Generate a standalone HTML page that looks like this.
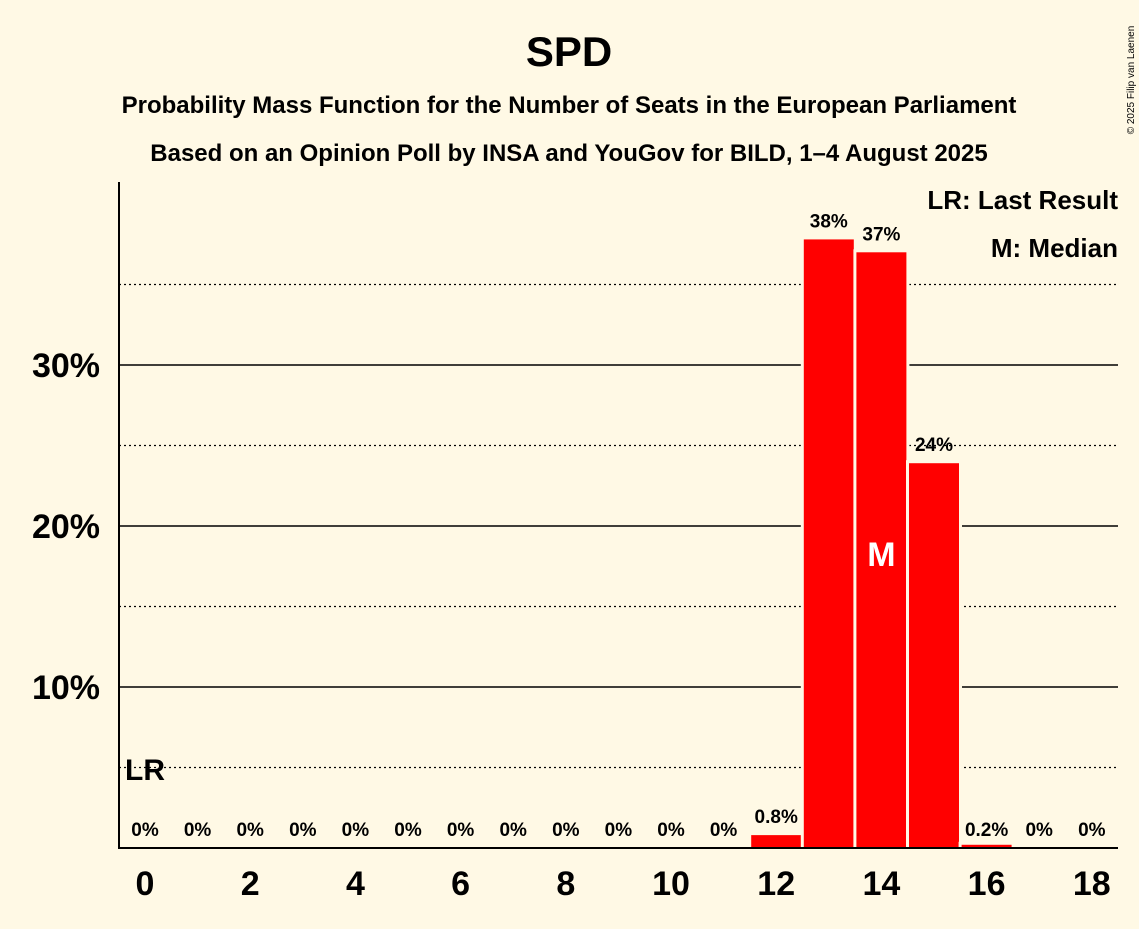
<!DOCTYPE html>
<html><head><meta charset="utf-8"><style>
body{margin:0;background:#fff9e5;font-family:"Liberation Sans",sans-serif}
</style></head><body>
<svg width="1139" height="924" xmlns="http://www.w3.org/2000/svg" id="c" style="font-family:'Liberation Sans',sans-serif">
<rect width="1139" height="924" fill="#fff9e5"/>
<text x="569" y="66" text-anchor="middle" font-size="42" font-weight="bold">SPD</text>
<text x="569" y="113" text-anchor="middle" font-size="24" font-weight="bold">Probability Mass Function for the Number of Seats in the European Parliament</text>
<text x="569" y="161" text-anchor="middle" font-size="24" font-weight="bold">Based on an Opinion Poll by INSA and YouGov for BILD, 1–4 August 2025</text>
<text x="1134" y="80" font-size="10" transform="rotate(-90 1134 80)" text-anchor="middle">© 2025 Filip van Laenen</text>
<g id="grid"></g><g id="bars"></g><g id="labels"></g>
<line x1="119" y1="182" x2="119" y2="849" stroke="#000" stroke-width="2"/>
<line x1="118" y1="848" x2="1118" y2="848" stroke="#000" stroke-width="2"/>
<text x="1118" y="209" text-anchor="end" font-size="26" font-weight="bold">LR: Last Result</text>
<text x="1118" y="257" text-anchor="end" font-size="26" font-weight="bold">M: Median</text>
</svg>
<script>
const seats=[0,1,2,3,4,5,6,7,8,9,10,11,12,13,14,15,16,17,18];
const values=[0,0,0,0,0,0,0,0,0,0,0,0,0.8,37.8,37.0,23.9,0.2,0,0];
const valueLabels=["0%","0%","0%","0%","0%","0%","0%","0%","0%","0%","0%","0%","0.8%","38%","37%","24%","0.2%","0%","0%"];
const majorTicks=[10,20,30];
const minorTicks=[5,15,25,35];
const majorLabels=["10%","20%","30%"];
const xTickSeats=[0,2,4,6,8,10,12,14,16,18];
const lastResult=0, median=14;
const NS="http://www.w3.org/2000/svg";
const X=s=>145+s*52.6, Y=v=>848-v*16.1;
function mk(t,a,p){const e=document.createElementNS(NS,t);for(const k in a)e.setAttribute(k,a[k]);document.getElementById(p).appendChild(e);return e;}
majorTicks.forEach((v,i)=>{
 const l=mk('line',{x1:119,x2:1118,y1:Y(v),y2:Y(v),stroke:'#000','stroke-width':1.5},'grid');
 
 
 const t=mk('text',{x:100,y:Y(v)+12,'text-anchor':'end','font-size':34,'font-weight':'bold'},'grid');t.textContent=majorLabels[i];
 
 
});
minorTicks.forEach(v=>{
 const l=mk('line',{x1:119,x2:1118,y1:Y(v),y2:Y(v),stroke:'#000','stroke-width':1.2,'stroke-dasharray':'2,3'},'grid');
 
 
});
seats.forEach((s,i)=>{
 const v=values[i];
 if(v>0){
  const h=848-Y(v);
  mk('rect',{x:X(s)-28,y:Y(v)-3,width:56,height:h+3,fill:'#fff9e5'},'bars');
  const r=mk('rect',{x:X(s)-25,y:Y(v),width:50,height:h,fill:'#ff0000'},'bars');
  
  
 }
 const t=mk('text',{x:X(s),y:Y(v)-12,'text-anchor':'middle','font-size':19,'font-weight':'bold'},'labels');t.textContent=valueLabels[i];
 if(v<0.5)t.setAttribute('y',836);
 
 
});
xTickSeats.forEach(s=>{
 const t=mk('text',{x:X(s),y:895,'text-anchor':'middle','font-size':34,'font-weight':'bold'},'labels');t.textContent=s;
 
 
});
const m=mk('text',{x:X(median),y:566,'text-anchor':'middle','font-size':34,'font-weight':'bold',fill:'#fff'},'labels');m.textContent='M';


const lr=mk('text',{x:X(lastResult),y:780,'text-anchor':'middle','font-size':30,'font-weight':'bold'},'labels');lr.textContent='LR';


</script>
</body></html>
